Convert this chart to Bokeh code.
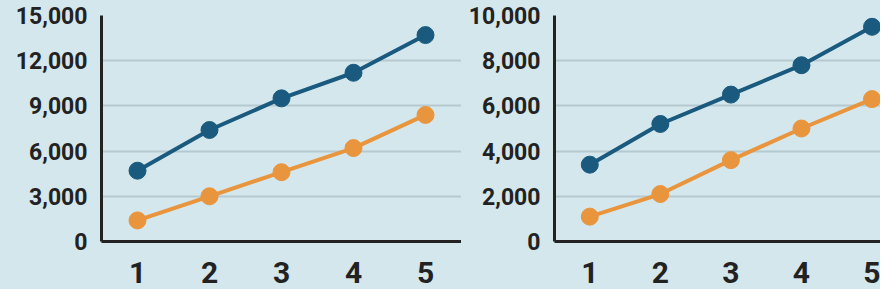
from bokeh.plotting import figure
from bokeh.layouts import row
from bokeh.models import Range1d, FixedTicker, NumeralTickFormatter
from bokeh.embed import file_html
from bokeh.resources import INLINE

# ---- data ----
x_values = [1, 2, 3, 4, 5]
x_tick_labels = ["1", "2", "3", "4", "5"]

left_blue = [4700, 7400, 9500, 11200, 13700]
left_orange = [1400, 3000, 4600, 6200, 8400]
left_yticks = [0, 3000, 6000, 9000, 12000, 15000]

right_blue = [3400, 5200, 6500, 7800, 9500]
right_orange = [1100, 2100, 3600, 5000, 6300]
right_yticks = [0, 2000, 4000, 6000, 8000, 10000]

# ---- style ----
BG = "#d4e7ec"
GRID = "#b5c9d0"
AXIS = "#232323"
TEXT = "#222222"
BLUE = "#1a5a7e"
ORANGE = "#e9953d"
FONT = "Roboto"


def make_panel(blue, orange, yticks, x_end, frame_width, border_left):
    p = figure(
        frame_width=frame_width,
        frame_height=226,
        min_border_left=border_left,
        min_border_right=0,
        min_border_top=15,
        min_border_bottom=48,
        x_range=Range1d(0.5, x_end),
        y_range=Range1d(yticks[0], yticks[-1]),
        output_backend="svg",
        toolbar_location=None,
        background_fill_color=BG,
        border_fill_color=BG,
    )
    p.outline_line_color = None
    p.xgrid.grid_line_color = None
    p.ygrid.grid_line_color = GRID
    p.ygrid.grid_line_width = 2
    p.ygrid.ticker = FixedTicker(ticks=yticks)

    p.yaxis.ticker = FixedTicker(ticks=yticks)
    p.yaxis.formatter = NumeralTickFormatter(format="0,0")
    p.xaxis.ticker = FixedTicker(ticks=x_values)
    p.xaxis.major_label_overrides = {v: s for v, s in zip(x_values, x_tick_labels)}

    for ax in (p.xaxis[0], p.yaxis[0]):
        ax.axis_line_color = AXIS
        ax.axis_line_width = 3
        ax.major_tick_line_color = None
        ax.minor_tick_line_color = None
        ax.major_tick_out = 0
        ax.major_tick_in = 0
        ax.major_label_text_color = TEXT
        ax.major_label_text_font = FONT
        ax.major_label_text_font_style = "bold"

    p.yaxis.major_label_text_font_size = "23px"
    p.yaxis.major_label_standoff = 14
    p.xaxis.major_label_text_font_size = "30px"
    p.xaxis.major_label_standoff = 20

    p.line(x_values, orange, line_color=ORANGE, line_width=4)
    p.scatter(x_values, orange, size=17, fill_color=ORANGE, line_color=ORANGE)
    p.line(x_values, blue, line_color=BLUE, line_width=4)
    p.scatter(x_values, blue, size=17, fill_color=BLUE, line_color=BLUE)
    return p


p1 = make_panel(left_blue, left_orange, left_yticks, 5.5, 360, 101)
p2 = make_panel(right_blue, right_orange, right_yticks, 5.12, 326, 93)

layout = row(p1, p2, spacing=0)
layout.styles = {"background-color": BG}

html = file_html(layout, INLINE)
html = html.replace("<body>", '<body style="background-color:%s;">' % BG, 1)
open("out.html", "w").write(html)
